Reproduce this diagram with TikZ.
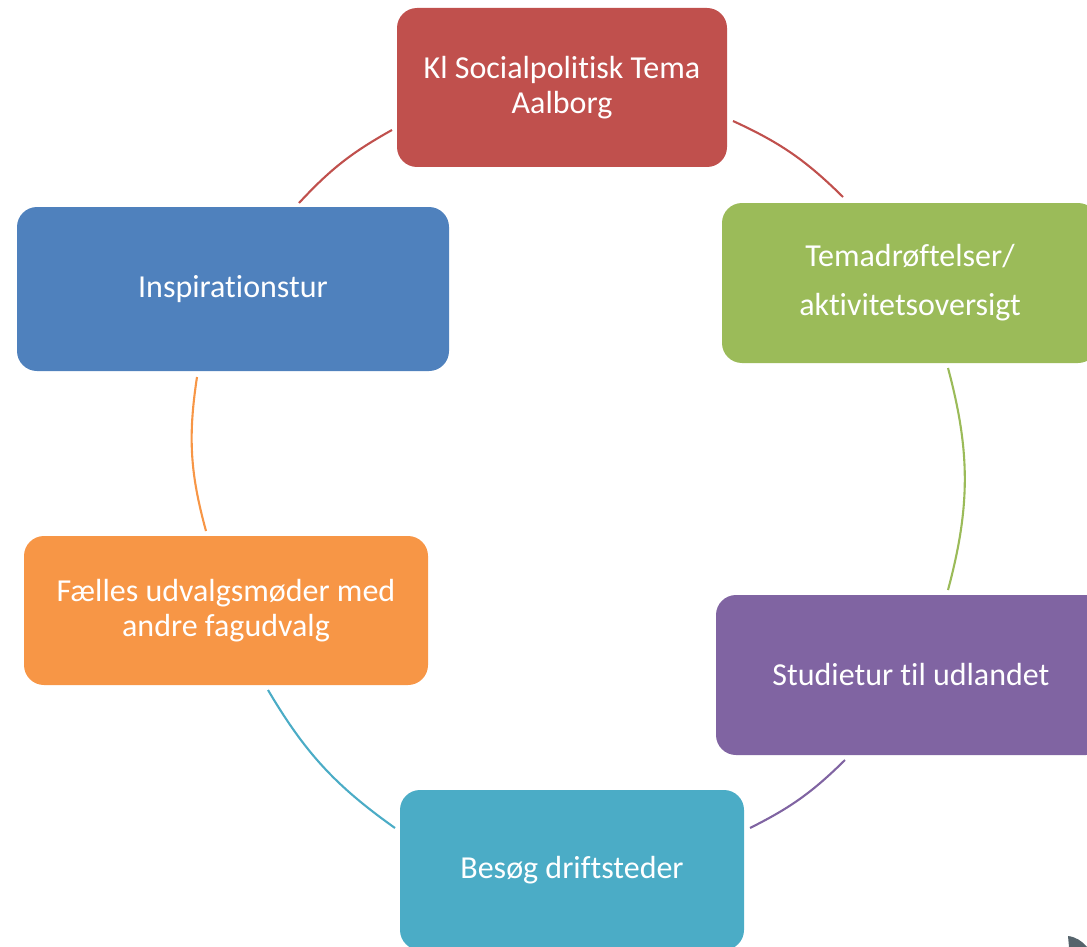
\documentclass[tikz,border=0pt]{standalone}
\usepackage{fontspec}
\setmainfont[Ligatures={NoCommon,NoRequired,NoContextual},RawFeature={-liga;-clig;-rlig;-calt}]{Carlito}
\usepackage{tikz}
\usetikzlibrary{positioning}

\definecolor{kred}{HTML}{C0504D}
\definecolor{kgreen}{HTML}{9BBB59}
\definecolor{kpurple}{HTML}{8064A2}
\definecolor{kcyan}{HTML}{4BACC6}
\definecolor{korange}{HTML}{F79646}
\definecolor{kblue}{HTML}{4F81BD}
\definecolor{kgray}{HTML}{56646C}

\begin{document}
\begin{tikzpicture}[
            x = 1pt,
            y = -1pt,
            block/.style = {
                rectangle,
                rounded corners = 20pt,
                inner sep = 0pt,
                align = center,
                text = white,
                font = \fontsize{32}{35}\selectfont
            },
            link/.style = {
                line width = 2.1pt
            }
        ]
        \useasboundingbox (0,0) rectangle (1087,947);

        \node[block, fill=kred, minimum width=330pt, minimum height=159pt] (tema) at (562,87.5)
            {Kl Socialpolitisk Tema\\Aalborg};
        \node[block, fill=kgreen, minimum width=376pt, minimum height=160pt] (drof) at (910,283)
            {Temadrøftelser/\\[14pt]aktivitetsoversigt};
        \node[block, fill=kpurple, minimum width=390pt, minimum height=160pt] (studie) at (911,675)
            {Studietur til udlandet};
        \node[block, fill=kcyan, minimum width=344pt, minimum height=160pt] (besog) at (572,870)
            {Besøg driftsteder};
        \node[block, fill=korange, minimum width=404pt, minimum height=149pt] (faelles) at (226,610.5)
            {Fælles udvalgsmøder med\\andre fagudvalg};
        \node[block, fill=kblue, minimum width=432pt, minimum height=164pt] (insp) at (233,289)
            {Inspirationstur};

        % arc ends
        \coordinate (temaE) at (733,121);
        \coordinate (drofN) at (843,197);
        \coordinate (drofS) at (948,368);
        \coordinate (studieN) at (948,590);
        \coordinate (studieS) at (845,760);
        \coordinate (besogE) at (750,828);
        \coordinate (besogW) at (395,828);
        \coordinate (faellesS) at (268,690);
        \coordinate (faellesN) at (206,531);
        \coordinate (inspS) at (197,377);
        \coordinate (inspN) at (299,203);
        \coordinate (temaW) at (392,130);

        \draw[link, kred] (temaE) to[bend left=10] (drofN);
        \draw[link, kgreen] (drofS) to[bend left=15] (studieN);
        \draw[link, kpurple] (studieS) to[bend left=9] (besogE);
        \draw[link, kcyan] (besogW) to[bend left=12] (faellesS);
        \draw[link, korange] (faellesN) to[bend left=12] (inspS);
        \draw[link, kred] (inspN) to[bend left=9] (temaW);

        \fill[kgray] (1068,936) .. controls (1076,937) and (1082,941) .. (1087,947) -- (1069,947) -- cycle;
    \end{tikzpicture}
\end{document}
